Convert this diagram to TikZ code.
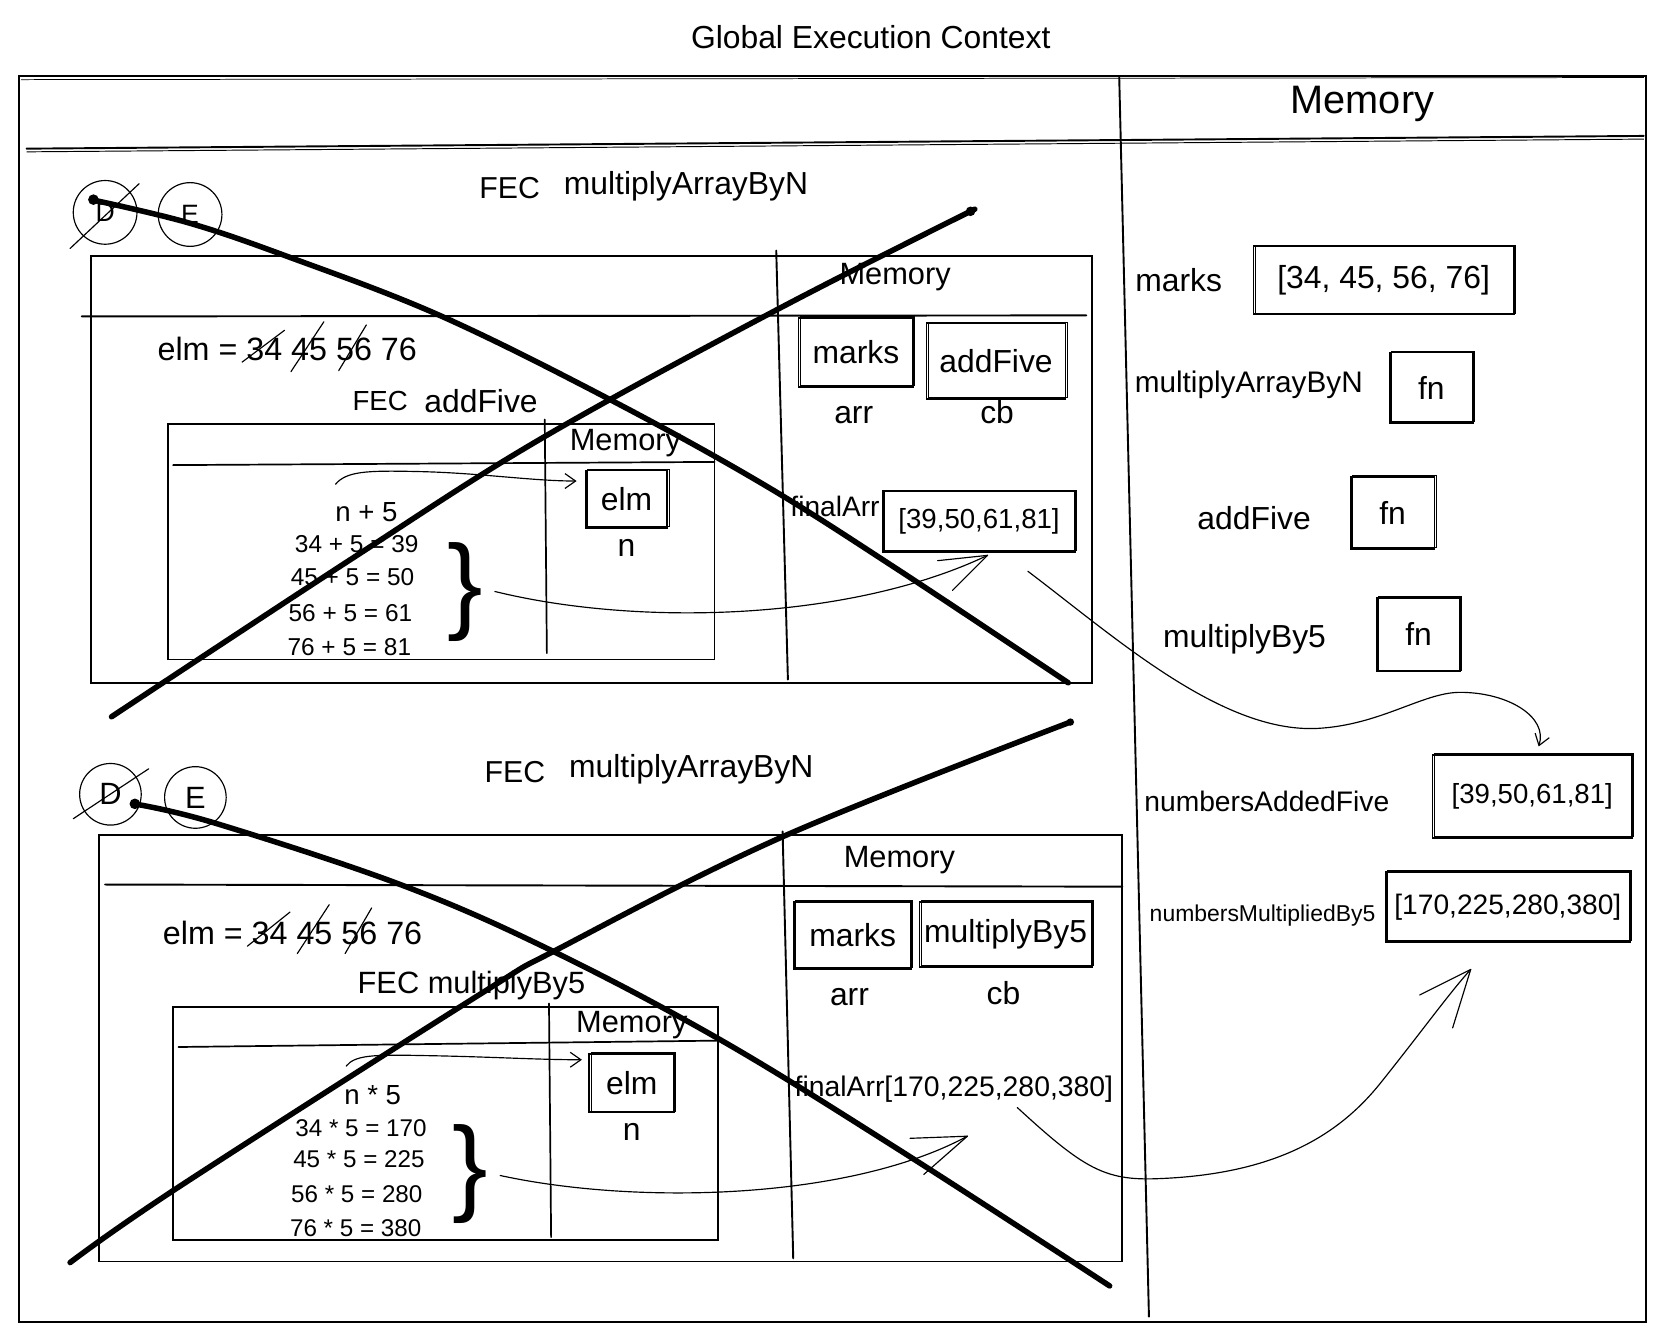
\documentclass[tikz,border=0pt]{standalone}
\usepackage{fontspec}
\setmainfont{Liberation Sans}
\usetikzlibrary{arrows.meta}
\begin{document}
\begin{tikzpicture}[x=0.5pt,y=-0.5pt,
  txt/.style={inner sep=0pt, font={\fontsize{#1}{#1}\selectfont}},
  txt/.default=15pt,
  frame/.style={line width=0.9pt, line cap=round},
  thinframe/.style={line width=0.8pt, line cap=round},
  box/.style 2 args={draw, line width=0.85pt, minimum width=#1, minimum height=#2,
     postaction={draw, line width=0.3pt, transform canvas={shift={(0.7pt,0.6pt)}}}},
  ring/.style={draw, circle, line width=0.55pt, minimum size=#1, inner sep=0pt},
  cross/.style={line width=2.6pt, line cap=round, line join=round},
  conn/.style={line width=0.55pt, line cap=round},
  strike/.style={line width=0.55pt, line cap=round},
  barb/.style={-{Straight Barb[length=5pt,width=7pt]}},
]
\useasboundingbox (0,0) rectangle (1568,1263);

% ---------- global frame ----------
\node[txt=15pt] (title) at (820,35) {Global Execution Context};
\draw[frame] (18,72) -- (1550,72) -- (1550,1245) -- (18,1245) -- cycle;
\draw[line width=0.35pt] (20,75) -- (1548,73);
\draw[frame] (25,140) -- (1548,128);
\draw[line width=0.45pt] (25,143) -- (1548,131);
\draw[frame] (1054,72) -- (1082,1240);
\node[txt=18.7pt] (memR) at (1283,98) {Memory};

% ---------- global memory ----------
\node[txt=15pt] (lmarks) at (1110,264) {marks};
\node[box={122.5pt}{32pt}, txt=15pt] (vmarks) at (1303,264) {[34, 45, 56, 76]};
\node[txt=14pt] (lmab) at (1176,362) {multiplyArrayByN};
\node[box={39pt}{33pt}, txt=15pt] (vmab) at (1348,365) {fn};
\node[txt=15pt] (laf) at (1181,488) {addFive};
\node[box={39.5pt}{34pt}, txt=15pt] (vaf) at (1311.5,483) {fn};
\node[txt=15pt] (lmb5) at (1172,602) {multiplyBy5};
\node[box={39pt}{34.5pt}, txt=15pt] (vmb5) at (1336,597.5) {fn};
\node[txt=13.3pt] (lnaf) at (1193,755) {numbersAddedFive};
\node[box={94pt}{39pt}, txt=13pt] (vnaf) at (1443,750) {[39,50,61,81]};
\node[txt=10.8pt] (lnmb) at (1189,862) {numbersMultipliedBy5};
\node[box={115pt}{33pt}, txt=13.25pt] (vnmb) at (1420,854) {[170,225,280,380]};

% ---------- upper FEC ----------
\node[ring=30pt, txt=12.5pt] (D1) at (99,200) {D};
\draw[strike] (66,234) -- (131,173);
\node[ring=30pt, txt=12.5pt] (E1) at (179,202) {E};
\node[txt=14.25pt] (fec1) at (480,177) {FEC};
\node[txt=15pt] (fname1) at (646,175) {multiplyArrayByN};
\draw[frame] (86,241) -- (1028,241) -- (1028,643) -- (86,643) -- cycle;
\draw[frame] (77,298) -- (1023,297);
\draw[frame] (731,236) -- (742,640);
\node[txt=14.5pt] (mem1) at (843,261) {Memory};
\node[txt=15.2pt, anchor=west] (elm1) at (148,329) {elm = 34 45 56 76};
\draw[strike] (228,341) -- (268,311);
\draw[strike] (274,350) -- (305,303);
\draw[strike] (319,349) -- (345,306);
\node[txt=13pt] (fecA) at (358,378) {FEC};
\node[txt=15pt] (nameA) at (453,378) {addFive};
\draw[thinframe] (158,399) -- (673,399) -- (673,621) -- (158,621) -- cycle;
\draw[thinframe] (163,438) -- (673,435);
\draw[thinframe] (513,395) -- (515,615);
\node[txt=14.5pt] (imem1) at (589,417) {Memory};
\node[box={38.5pt}{27pt}, txt=15pt] (elmb1) at (590,470) {elm};
\node[txt=15pt] (n1) at (590,516) {n};
\node[txt=13pt] (np5) at (345,482) {n + 5};
\node[txt=11.5pt] (e11) at (336,512) {34 + 5 = 39};
\node[txt=11.5pt] (e12) at (332,543) {45 + 5 = 50};
\node[txt=11.5pt] (e13) at (330,577) {56 + 5 = 61};
\node[txt=11.5pt] (e14) at (329,609) {76 + 5 = 81};
\node[txt=50pt] (br1) at (438,558) {\}};
\node[box={54pt}{32.5pt}, txt=15pt] (mk1) at (806,332) {marks};
\node[box={65.5pt}{35.5pt}, txt=15pt] (af1) at (938,340) {addFive};
\node[txt=15pt] (arr1) at (804,391) {arr};
\node[txt=15pt] (cb1) at (939,388) {cb};
\node[txt=13.25pt, anchor=west] (fa1) at (744,477) {finalArr};
\node[box={90.5pt}{28.5pt}, txt=13pt] (fab1) at (922,491) {[39,50,61,81]};

% connectors upper
\coordinate (sa1s) at (316,456);
\coordinate (sa1t) at (543,453);
\draw[conn, barb] (sa1s) .. controls (326,444) and (345,443) .. (390,444) .. controls (450,445) and (500,453) .. (sa1t);
\coordinate (ba1s) at (466,557);
\coordinate (ba1t) at (930,523);
\draw[conn] (ba1s) .. controls (600,590) and (800,585) .. (ba1t);
\draw[conn] (ba1t) -- (883,528);
\draw[conn] (ba1t) -- (897,556);
\coordinate (lc1s) at (968,538);
\coordinate (lc1t) at (1449,703);
\draw[conn, barb] (lc1s) .. controls (1050,600) and (1150,690) .. (1240,686) .. controls (1300,683) and (1340,652) .. (1375,652) .. controls (1420,652) and (1458,675) .. (lc1t);

% ---------- lower FEC ----------
\node[ring=29pt, txt=14.5pt] (D2) at (104,748) {D};
\draw[strike] (69,771) -- (140,724);
\node[ring=29pt, txt=14.5pt] (E2) at (184,751) {E};
\node[txt=14.25pt] (fec2) at (485,727) {FEC};
\node[txt=15pt] (fname2) at (651,724) {multiplyArrayByN};
\draw[frame] (93,786) -- (1057,786) -- (1057,1188) -- (93,1188) -- cycle;
\draw[frame] (99,833) -- (1057,835);
\draw[frame] (737,783) -- (747,1185);
\node[txt=14.5pt] (mem2) at (847,810) {Memory};
\node[txt=15.2pt, anchor=west] (elm2) at (153,879) {elm = 34 45 56 76};
\draw[strike] (233,891) -- (273,859);
\draw[strike] (280,898) -- (310,852);
\draw[strike] (325,898) -- (350,855);
\node[txt=14.5pt] (fecB) at (444,928) {FEC multiplyBy5};
\draw[thinframe] (163,948) -- (676,948) -- (676,1168) -- (163,1168) -- cycle;
\draw[thinframe] (168,986) -- (676,980);
\draw[thinframe] (517,945) -- (519,1165);
\node[txt=14.5pt] (imem2) at (595,965) {Memory};
\node[box={40pt}{27.5pt}, txt=15pt] (elmb2) at (595,1020) {elm};
\node[txt=15pt] (n2) at (595,1066) {n};
\node[txt=13pt] (nt5) at (351,1031) {n * 5};
\node[txt=11.4pt] (e21) at (340,1062) {34 * 5 = 170};
\node[txt=11.4pt] (e22) at (338,1092) {45 * 5 = 225};
\node[txt=11.4pt] (e23) at (336,1125) {56 * 5 = 280};
\node[txt=11.4pt] (e24) at (335,1157) {76 * 5 = 380};
\node[txt=50pt] (br2) at (443,1106) {\}};
\node[box={55pt}{31.5pt}, txt=15pt] (mk2) at (803,881) {marks};
\node[box={81pt}{30.5pt}, txt=15pt] (mb2) at (947,880) {multiplyBy5};
\node[txt=15pt] (arr2) at (800,939) {arr};
\node[txt=15pt] (cb2) at (945,935) {cb};
\node[txt=13.35pt, anchor=west] (fa2) at (748,1026) {finalArr[170,225,280,380]};

% connectors lower
\coordinate (sa2s) at (326,1004);
\coordinate (sa2t) at (548,998);
\draw[conn, barb] (sa2s) .. controls (334,994) and (350,993) .. (395,994) .. controls (460,995) and (505,998) .. (sa2t);
\coordinate (ba2s) at (471,1107);
\coordinate (ba2t) at (911,1070);
\draw[conn] (ba2s) .. controls (600,1135) and (800,1130) .. (ba2t);
\draw[conn] (ba2t) -- (857,1072);
\draw[conn] (ba2t) -- (870,1106);
\coordinate (lc2s) at (958,1043);
\coordinate (lc2t) at (1385,913);
\draw[conn] (lc2s) .. controls (1020,1100) and (1040,1112) .. (1090,1110) .. controls (1200,1106) and (1260,1070) .. (1300,1020) .. controls (1340,970) and (1365,935) .. (lc2t);
\draw[conn] (lc2t) -- (1337,937);
\draw[conn] (lc2t) -- (1368,968);

% ---------- crossing-out strokes ----------
\draw[cross] plot[smooth, tension=0.6] coordinates {(86,188) (178,210) (272,242) (414,297) (572,375) (717,455) (845,536) (1006,643)};
\fill (88,188) circle (5);
\draw[cross] plot[smooth, tension=0.6] coordinates {(105,675) (330,527) (508,414) (731,292) (918,197)};
\fill (914,199) circle (4.5);
\draw[cross] plot[smooth, tension=0.6] coordinates {(126,757) (202,775) (377,833) (517,894) (678,979) (847,1083) (1045,1211)};
\fill (127,757) circle (5);
\draw[cross] plot[smooth, tension=0.6] coordinates {(66,1189) (168,1118) (451,937) (527,893) (737,788) (1008,680)};
\fill (1008,680) circle (3.5);
\end{tikzpicture}
\end{document}
